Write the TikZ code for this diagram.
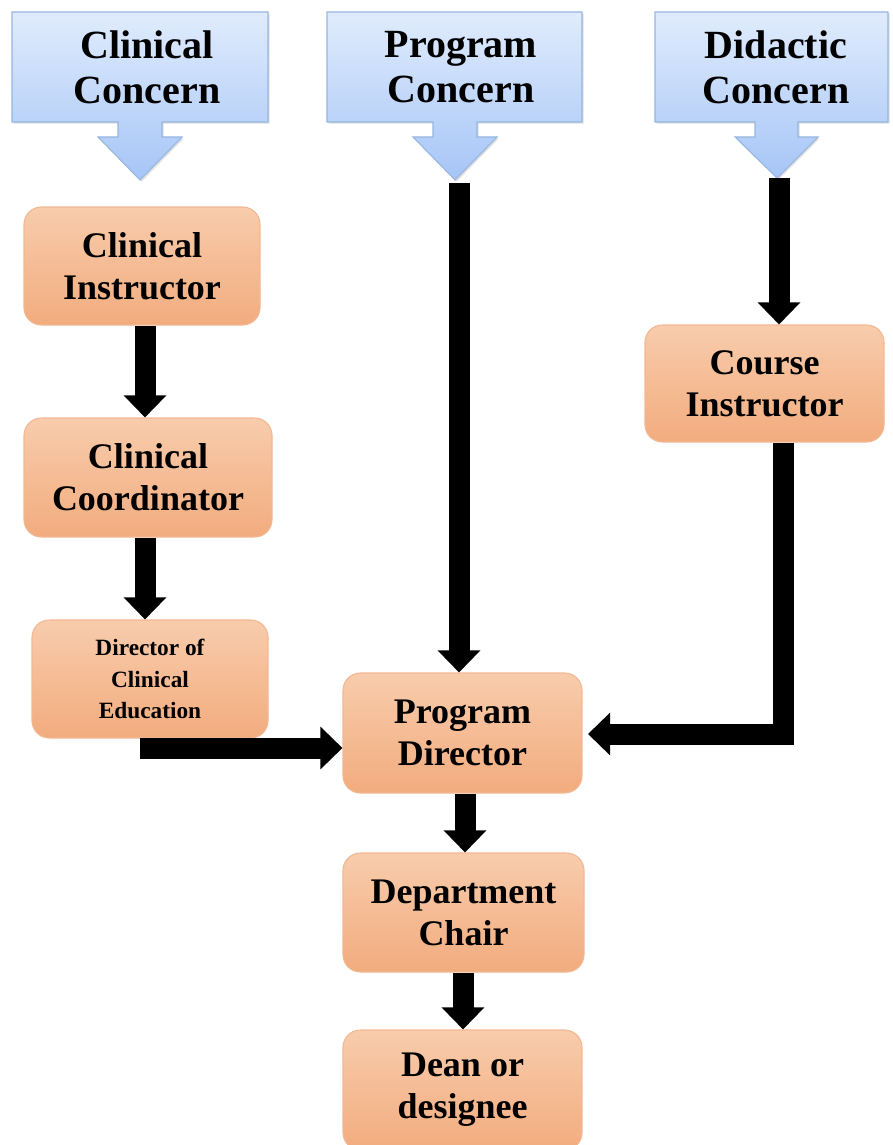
\documentclass[tikz,border=0pt]{standalone}
\usepackage{fontspec}
\setmainfont{Liberation Serif}
\usetikzlibrary{arrows.meta,shadows}
\definecolor{orTop}{RGB}{248,204,172}
\definecolor{orBot}{RGB}{242,172,126}
\definecolor{orLine}{RGB}{241,184,146}
\definecolor{blTop}{RGB}{224,236,253}
\definecolor{blBot}{RGB}{166,197,246}
\definecolor{blLine}{RGB}{150,182,224}
\begin{document}
\begin{tikzpicture}[x=0.75pt,y=-0.75pt,
  box/.style={draw=orLine, line width=0.8pt, rounded corners=13pt,
    top color=orTop, middle color=orTop!80!orBot, bottom color=orBot,
    align=center, inner sep=0pt, text=black,
    font=\bfseries\fontsize{27}{31.5}\selectfont},
  smallbox/.style={box, font=\bfseries\fontsize{17.5}{23.5}\selectfont},
  callout/.style={draw=blLine, line width=0.8pt, top color=blTop, bottom color=blBot,
    drop shadow={opacity=0.25, shadow xshift=1.2pt, shadow yshift=-1.2pt}},
  ctext/.style={align=center, inner sep=0pt, text=black,
    font=\bfseries\fontsize{30}{34}\selectfont},
  conn/.style={draw=black, line width=15.75pt, -{Triangle[width=31pt,length=16.5pt]}}
]
\useasboundingbox (0,0) rectangle (892,1145);

% callouts
\path[callout] (12,12) -- (268,12) -- (268,122) -- (162,122) -- (162,137) -- (182,137)
  -- (140,180) -- (98,137) -- (118,137) -- (118,122) -- (12,122) -- cycle;
\path[callout] (327,12) -- (582,12) -- (582,122) -- (477,122) -- (477,137) -- (497,137)
  -- (455,180) -- (413,137) -- (433,137) -- (433,122) -- (327,122) -- cycle;
\path[callout] (655,12) -- (888,12) -- (888,122) -- (798,122) -- (798,137) -- (818,137)
  -- (777,178) -- (735,137) -- (755,137) -- (755,122) -- (655,122) -- cycle;
\node[ctext] (ccon) at (147,67) {Clinical\\Concern};
\node[ctext] (pcon) at (461,67) {Program\\Concern};
\node[ctext] (dcon) at (776,67) {Didactic\\Concern};
\coordinate (pcs) at (459,183);
\coordinate (dcs) at (779,178);

% boxes
\node[box, minimum width=177pt, minimum height=88.5pt] (ci) at (142,266) {Clinical\\Instructor};
\node[box, minimum width=186pt, minimum height=89.25pt] (cc) at (148,477.5) {Clinical\\Coordinator};
\node[smallbox, minimum width=177pt, minimum height=88.5pt] (dce) at (150,679) {Director of\\Clinical\\Education};
\node[box, minimum width=179.25pt, minimum height=90pt] (pd) at (462.5,733) {Program\\Director};
\node[box, minimum width=180.75pt, minimum height=89.25pt] (dc) at (463.5,912.5) {Department\\Chair};
\node[box, minimum width=179.25pt, minimum height=90pt] (dean) at (462.5,1090) {Dean or\\designee};
\node[box, minimum width=179.25pt, minimum height=87.75pt] (coi) at (764.5,383.5) {Course\\Instructor};

% helper x positions
\coordinate (xa) at (145,0);
\coordinate (xb) at (783,0);
\coordinate (xc) at (465,0);
\coordinate (xd) at (463,0);
\coordinate (dceout) at (140,748);
\coordinate (pdin) at (588,734);

% connectors
\draw[conn] (ci.south -| xa) -- (cc.north -| xa);
\draw[conn] (cc.south -| xa) -- (dce.north -| xa);
\draw[conn] (dceout) -- (dceout -| pd.west);
\draw[conn] (pcs) -- (pcs |- pd.north);
\draw[conn] (dcs) -- (dcs |- coi.north);
\draw[conn] (coi.south -| xb) |- (pdin);
\draw[conn] (pd.south -| xc) -- (dc.north -| xc);
\draw[conn] (dc.south -| xd) -- (dean.north -| xd);
\end{tikzpicture}
\end{document}
